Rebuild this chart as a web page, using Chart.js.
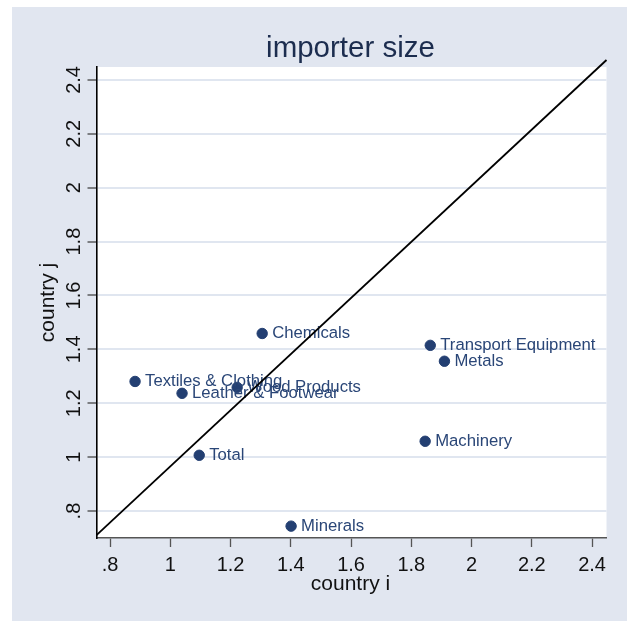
<!DOCTYPE html>
<html>
<head>
<meta charset="utf-8">
<script src="https://cdn.jsdelivr.net/npm/chart.js@4.4.1/dist/chart.umd.min.js"></script>
<style>
  html, body { margin: 0; padding: 0; background: #fff; }
  #wrap { width: 627px; height: 621px; position: relative; }
</style>
</head>
<body>
<div id="wrap"><canvas id="chart"></canvas></div>
<script>
const industries = ['Chemicals', 'Textiles & Clothing', 'Wood Products', 'Leather & Footwear', 'Total',
  'Minerals', 'Transport Equipment', 'Metals', 'Machinery'];
const countryI = [1.305, 0.883, 1.222, 1.039, 1.096, 1.401, 1.863, 1.910, 1.846];
const countryJ = [1.459, 1.281, 1.259, 1.237, 1.007, 0.744, 1.415, 1.356, 1.059];

// reference line at the plot edges
const lineX = [0.755, 2.448];
const lineY = [0.711, 2.474];

const xTicks = [0.8, 1, 1.2, 1.4, 1.6, 1.8, 2, 2.2, 2.4];
const xTickLabels = ['.8', '1', '1.2', '1.4', '1.6', '1.8', '2', '2.2', '2.4'];
const yTicks = [0.8, 1, 1.2, 1.4, 1.6, 1.8, 2, 2.2, 2.4];
const yTickLabels = ['.8', '1', '1.2', '1.4', '1.6', '1.8', '2', '2.2', '2.4'];

const FONT = '"Liberation Sans", Arial, sans-serif';
const NAVY = '#233f72';

const stataLook = {
  id: 'stataLook',
  beforeDraw(chart) {
    const { ctx, width, height, chartArea: a } = chart;
    ctx.save();
    ctx.fillStyle = '#ffffff';
    ctx.fillRect(0, 0, width, height);
    ctx.fillStyle = '#e1e6f0';
    ctx.fillRect(12, 7, width - 12, height - 7);
    ctx.fillStyle = '#ffffff';
    ctx.fillRect(a.left, a.top, a.right - a.left, a.bottom - a.top);
    ctx.restore();
  },
  afterDatasetDraw(chart, args) {
    if (args.index !== 0) return;
    const ctx = chart.ctx;
    ctx.save();
    ctx.font = '16.7px ' + FONT;
    ctx.fillStyle = '#2a4677';
    ctx.textBaseline = 'middle';
    ctx.textAlign = 'left';
    args.meta.data.forEach((pt, i) => {
      ctx.fillText(industries[i], pt.x + 10, pt.y);
    });
    ctx.restore();
  },
  afterDraw(chart) {
    const { ctx, chartArea: a } = chart;
    const ys = chart.scales.y;
    ctx.save();
    // y tick labels, turned like Stata's
    ctx.font = '20px ' + FONT;
    ctx.fillStyle = '#111';
    ctx.textAlign = 'center';
    ctx.textBaseline = 'alphabetic';
    yTicks.forEach((v, i) => {
      ctx.save();
      ctx.translate(80, ys.getPixelForValue(v));
      ctx.rotate(-Math.PI / 2);
      ctx.fillText(yTickLabels[i], 0, 0);
      ctx.restore();
    });
    // axis titles
    ctx.font = '21px ' + FONT;
    ctx.save();
    ctx.translate(54, (a.top + a.bottom) / 2);
    ctx.rotate(-Math.PI / 2);
    ctx.fillText('country j', 0, 0);
    ctx.restore();
    ctx.fillText('country i', (a.left + a.right) / 2 - 1, 590);
    // title
    ctx.font = '29.5px ' + FONT;
    ctx.fillStyle = '#1c2d4f';
    ctx.fillText('importer size', (a.left + a.right) / 2 - 1, 57);
    ctx.restore();
  }
};

new Chart(document.getElementById('chart'), {
  type: 'scatter',
  data: {
    datasets: [
      {
        label: 'industries',
        data: countryI.map((x, i) => ({ x: x, y: countryJ[i] })),
        backgroundColor: NAVY,
        borderColor: NAVY,
        pointRadius: 5.2,
        pointHoverRadius: 5.2,
        order: 2
      },
      {
        label: 'line',
        type: 'line',
        data: lineX.map((x, i) => ({ x: x, y: lineY[i] })),
        borderColor: '#000',
        borderWidth: 1.8,
        pointRadius: 0,
        fill: false,
        clip: false,
        order: 1
      }
    ]
  },
  options: {
    responsive: true,
    maintainAspectRatio: false,
    animation: false,
    layout: { padding: { top: 67, right: 20.5, left: 0, bottom: 0 } },
    plugins: {
      legend: { display: false },
      tooltip: { enabled: false },
      title: { display: false }
    },
    scales: {
      x: {
        type: 'linear',
        min: 0.755,
        max: 2.448,
        afterBuildTicks: s => { s.ticks = xTicks.map(v => ({ value: v })); },
        afterFit: s => { s.height = 83; },
        grid: { drawOnChartArea: false, drawTicks: true, tickLength: 9, tickColor: '#555', tickWidth: 1.3 },
        border: { color: '#555', width: 1.6 },
        ticks: {
          font: { family: FONT, size: 20 },
          color: '#111',
          padding: 6,
          maxRotation: 0,
          autoSkip: false,
          callback: (v, i) => xTickLabels[i]
        }
      },
      y: {
        type: 'linear',
        min: 0.7,
        max: 2.448,
        afterBuildTicks: s => { s.ticks = yTicks.map(v => ({ value: v })); },
        afterFit: s => { s.width = 96.5; },
        grid: { color: '#e0e6f0', lineWidth: 2, drawTicks: true, tickLength: 9, tickColor: '#444', tickWidth: 1.3 },
        border: { color: '#000', width: 1.6 },
        ticks: { display: false }
      }
    }
  },
  plugins: [stataLook]
});
</script>
</body>
</html>
